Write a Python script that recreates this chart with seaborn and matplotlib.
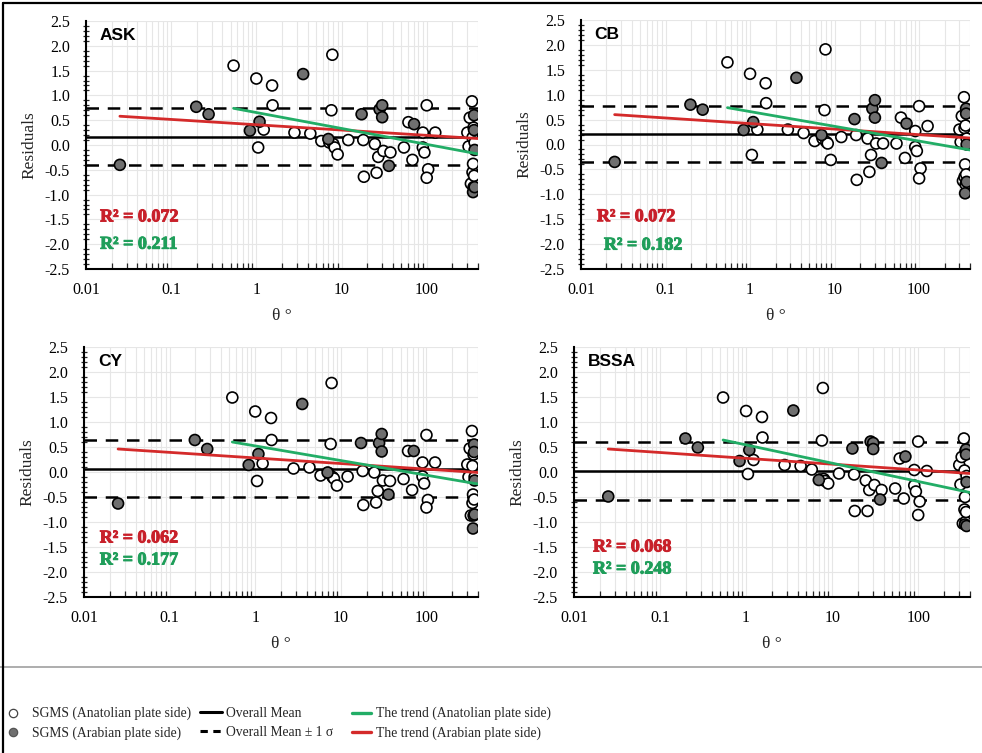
import numpy as np
import pandas as pd
import matplotlib
matplotlib.use("Agg")
import matplotlib.pyplot as plt
import matplotlib.patheffects as pe
import seaborn as sns
from matplotlib.lines import Line2D
from matplotlib.ticker import MultipleLocator, LogLocator, NullFormatter, FuncFormatter, FormatStrFormatter, FixedLocator

# ---------------- data ----------------
models = ["ASK", "CB", "CY", "BSSA"]

anat_theta = [0.54, 1.00, 1.05, 1.22, 1.53, 1.55, 2.8, 4.3, 5.8, 7.2, 7.6, 7.8, 8.0, 8.3, 9.0,
              12, 18, 18.3, 24.6, 25.8, 27, 31, 37.5, 54, 61, 68, 90, 90, 94, 100, 104, 100, 126,
              300, 310, 320, 330, 340, 345, 345, 350, 355, 355, 360, 365]
ask_anat = [1.60, 1.34, -0.05, 0.31, 1.20, 0.80, 0.25, 0.23, 0.08, 0.05, 0.70, 1.82, 0.02, -0.05, -0.19,
            0.10, 0.10, -0.64, 0.02, -0.56, -0.24, -0.12, -0.15, -0.05, 0.46, -0.30, 0.25, -0.05, -0.15, 0.80, -0.49, -0.66, 0.25,
            0.25, -0.03, 0.55, -0.78, 0.88, 0.15, -0.55, -0.38, 0.35, -0.85, -0.62, 0.05]
cb_anat = [1.65, 1.42, -0.21, 0.30, 1.23, 0.83, 0.30, 0.23, 0.07, 0.12, 0.69, 1.91, 0.05, 0.02, -0.31,
           0.15, 0.19, -0.71, 0.12, -0.55, -0.21, 0.02, 0.02, 0.02, 0.54, -0.27, 0.27, -0.05, -0.13, 0.77, -0.48, -0.68, 0.37,
           0.30, 0.05, 0.57, -0.73, 0.95, 0.33, -0.65, -0.40, 0.38, -0.80, -0.60, 0.12]
cy_anat = [1.49, 1.21, -0.18, 0.17, 1.08, 0.64, 0.07, 0.09, -0.07, -0.02, 0.56, 1.78, -0.10, -0.13, -0.27,
           -0.09, 0.02, -0.66, -0.01, -0.61, -0.38, -0.17, -0.18, -0.14, 0.42, -0.36, 0.19, -0.09, -0.23, 0.74, -0.56, -0.71, 0.19,
           0.15, -0.10, 0.47, -0.87, 0.82, 0.12, -0.62, -0.45, 0.35, -0.87, -0.55, -0.10]
bssa_anat = [1.49, 1.22, -0.04, 0.24, 1.10, 0.69, 0.14, 0.12, 0.05, -0.15, 0.63, 1.68, -0.14, -0.18, -0.23,
             -0.03, -0.05, -0.78, -0.17, -0.78, -0.36, -0.26, -0.36, -0.33, 0.27, -0.53, 0.04, -0.27, -0.39, 0.61, -0.59, -0.86, 0.02,
             0.14, -0.25, 0.30, -1.03, 0.67, 0.03, -0.75, -0.50, 0.42, -1.00, -0.80, -0.08]

arab_theta = [0.025, 0.197, 0.275, 0.84, 1.09, 3.54, 7.0, 17.2, 28, 30, 30, 36, 71, 350, 360, 365, 360, 365]
ask_arab = [-0.40, 0.77, 0.62, 0.29, 0.47, 1.43, 0.12, 0.62, 0.72, 0.80, 0.56, -0.42, 0.42, -0.95, 0.60, -0.10, 0.30, -0.85]
cb_arab = [-0.35, 0.80, 0.70, 0.29, 0.45, 1.34, 0.19, 0.51, 0.72, 0.89, 0.54, -0.37, 0.42, -0.98, 0.72, 0.00, 0.62, -0.75]
cy_arab = [-0.63, 0.64, 0.46, 0.14, 0.36, 1.36, -0.01, 0.58, 0.58, 0.76, 0.41, -0.45, 0.42, -1.13, 0.55, -0.17, 0.40, -0.85]
bssa_arab = [-0.49, 0.67, 0.49, 0.22, 0.44, 1.23, -0.16, 0.47, 0.61, 0.58, 0.46, -0.55, 0.31, -1.05, 0.45, -0.20, 0.35, -1.08]

# overall mean and mean +/- 1 sigma
overall_mean = [0.17, 0.21, 0.07, 0.03]
mean_plus = [0.74, 0.78, 0.64, 0.61]
mean_minus = [-0.40, -0.36, -0.49, -0.56]

# trend line end points
trend_arab_x = [0.025, 400]
trend_arab_y = {"ASK": [0.58, 0.13], "CB": [0.60, 0.13], "CY": [0.46, -0.01], "BSSA": [0.46, -0.03]}
trend_anat_x = [0.54, 400]
trend_anat_y = {"ASK": [0.74, -0.18], "CB": [0.74, -0.11], "CY": [0.60, -0.24], "BSSA": [0.64, -0.41]}

r2_arab = ["0.072", "0.072", "0.062", "0.068"]
r2_anat = ["0.211", "0.182", "0.177", "0.248"]

x_tick_values = [0.01, 0.1, 1, 10, 100]

anat_resid = {"ASK": ask_anat, "CB": cb_anat, "CY": cy_anat, "BSSA": bssa_anat}
arab_resid = {"ASK": ask_arab, "CB": cb_arab, "CY": cy_arab, "BSSA": bssa_arab}

rows = []
for m in models:
    for t, r in zip(anat_theta, anat_resid[m]):
        rows.append((m, "Anatolian", t, r))
    for t, r in zip(arab_theta, arab_resid[m]):
        rows.append((m, "Arabian", t, r))
df = pd.DataFrame(rows, columns=["model", "side", "theta", "resid"])

# ---------------- style ----------------
sns.set_theme(style="white")
plt.rcParams["font.family"] = ["Liberation Serif", "DejaVu Serif"]
plt.rcParams["axes.unicode_minus"] = False

RED = "#d42a2a"
GREEN = "#22ad66"
RED_T = "#c8202a"
GREEN_T = "#1f9e5a"
GRAY = "#6f6f6f"

fig = plt.figure(figsize=(9.82, 7.53), dpi=100)

W, H = 982.0, 753.0
boxes = {  # left, top, right, bottom in pixels
    "ASK": (86, 21, 478, 269),
    "CB": (581, 20, 970, 269),
    "CY": (84, 347, 478, 597),
    "BSSA": (574, 347, 970, 597),
}
lab_pos = {"ASK": (0.036, 0.21, 0.036, 0.10),
           "CB": (0.041, 0.21, 0.059, 0.096),
           "CY": (0.040, 0.236, 0.040, 0.148),
           "BSSA": (0.048, 0.20, 0.048, 0.112)}

for i, m in enumerate(models):
    l, t, r, b = boxes[m]
    ax = fig.add_axes([l / W, 1 - b / H, (r - l) / W, (b - t) / H])
    ax.set_xscale("log")
    ax.set_xlim(0.01, 400)
    ax.set_ylim(-2.5, 2.5)

    ax.axhline(overall_mean[i], color="black", lw=1.8, zorder=1)
    ax.axhline(mean_plus[i], color="black", lw=1.8, ls=(0, (5, 3.5)), zorder=1)
    ax.axhline(mean_minus[i], color="black", lw=1.8, ls=(0, (5, 3.5)), zorder=1)

    sub = df[df["model"] == m]
    sns.scatterplot(data=sub, x="theta", y="resid", hue="side",
                    palette={"Anatolian": "white", "Arabian": GRAY},
                    edgecolor="black", linewidth=1.2, s=62, legend=False, ax=ax, zorder=3)

    sns.lineplot(x=trend_arab_x, y=trend_arab_y[m], color=RED, lw=2.0, ax=ax, zorder=4)
    sns.lineplot(x=trend_anat_x, y=trend_anat_y[m], color=GREEN, lw=2.0, ax=ax, zorder=4)

    ax.yaxis.set_major_locator(MultipleLocator(0.5))
    ax.yaxis.set_minor_locator(MultipleLocator(0.1))
    ax.yaxis.set_major_formatter(FormatStrFormatter("%.1f"))
    ax.xaxis.set_major_locator(FixedLocator(x_tick_values))
    ax.xaxis.set_minor_locator(LogLocator(base=10, subs=np.arange(2, 10)))
    ax.xaxis.set_minor_formatter(NullFormatter())
    ax.xaxis.set_major_formatter(FuncFormatter(lambda v, p: f"{v:g}"))

    ax.set_axisbelow(True)
    ax.grid(which="both", axis="x", color="#e6e6e6", lw=0.8)
    ax.grid(which="major", axis="y", color="#e6e6e6", lw=0.8)

    for s in ["top", "right"]:
        ax.spines[s].set_visible(False)
    for s in ["left", "bottom"]:
        ax.spines[s].set_color("black")
        ax.spines[s].set_linewidth(1.5)

    ax.tick_params(axis="both", which="major", direction="inout", length=7, width=1.2,
                   colors="black", labelsize=11.5)
    ax.tick_params(axis="y", which="major", pad=8)
    ax.tick_params(axis="x", which="major", pad=6)
    ax.tick_params(axis="y", which="minor", direction="inout", length=4, width=0.9, left=True)
    ax.tick_params(axis="x", which="minor", direction="in", length=4, width=0.9, bottom=True)

    ax.set_xlabel("θ °", fontsize=12.5, labelpad=7)
    ax.set_ylabel("Residuals", fontsize=12.5, labelpad=5)

    ax.text(0.035, 0.94, m, transform=ax.transAxes, fontsize=12.5, fontweight="bold",
            family=["Liberation Sans"], va="center", ha="left", color="black")
    rx, ry, gx, gy = lab_pos[m]
    ax.text(rx, ry, f"R² = {r2_arab[i]}", transform=ax.transAxes, fontsize=13,
            family=["Liberation Serif"], fontweight="bold", color=RED_T, va="center", ha="left",
            path_effects=[pe.withStroke(linewidth=0.7, foreground=RED_T)])
    ax.text(gx, gy, f"R² = {r2_anat[i]}", transform=ax.transAxes, fontsize=13,
            family=["Liberation Serif"], fontweight="bold", color=GREEN_T, va="center", ha="left",
            path_effects=[pe.withStroke(linewidth=0.7, foreground=GREEN_T)])

# ---------------- legend ----------------
fs = 9.8
h_anat = Line2D([], [], ls="none", marker="o", mfc="white", mec="#444444", ms=6, mew=0.9)
h_arab = Line2D([], [], ls="none", marker="o", mfc=GRAY, mec="#555555", ms=6, mew=0.9)
h_mean = Line2D([], [], color="black", lw=2.2)
h_sig = Line2D([], [], color="black", lw=2.2, ls=(0, (2.4, 1.8)))
h_green = Line2D([], [], color=GREEN, lw=2.4)
h_red = Line2D([], [], color=RED, lw=2.4)

common = dict(loc="upper left", frameon=False, fontsize=fs, borderpad=0, borderaxespad=0,
              labelspacing=0.45)
y0 = 1 - 707 / H
fig.legend([h_anat, h_arab], ["SGMS (Anatolian plate side)", "SGMS (Arabian plate side)"],
           bbox_to_anchor=(6.5 / W, y0), handlelength=1.0, handletextpad=0.9, **common)
fig.legend([h_mean, h_sig], ["Overall Mean", "Overall Mean ± 1 σ"],
           bbox_to_anchor=(200 / W, y0), handlelength=1.65, handletextpad=0.25, **common)
fig.legend([h_green, h_red], ["The trend (Anatolian plate side)", "The trend (Arabian plate side)"],
           bbox_to_anchor=(352 / W, y0), handlelength=1.4, handletextpad=0.4, **common)

# frame lines
fig.add_artist(Line2D([0, 1], [1 - 667 / H, 1 - 667 / H], transform=fig.transFigure,
                      color="#a0a0a0", lw=1.2))
fig.add_artist(Line2D([3 / W, 3 / W], [0, 1 - 3 / H], transform=fig.transFigure,
                      color="black", lw=1.6))
fig.add_artist(Line2D([3 / W, 1], [1 - 3 / H, 1 - 3 / H], transform=fig.transFigure,
                      color="black", lw=1.6))

fig.savefig("out.png", dpi=100)
